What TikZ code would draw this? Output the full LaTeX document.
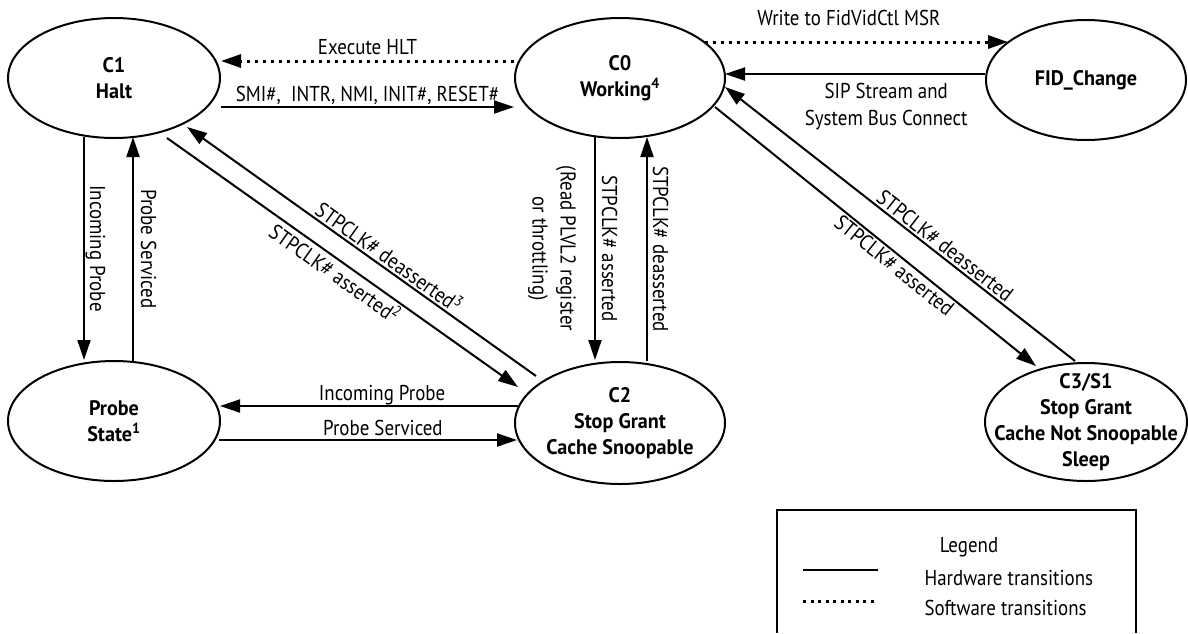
\documentclass[tikz,border=0pt]{standalone}
\usepackage{fontspec}
\setmainfont{PT Sans}[FakeStretch=0.88]
\newfontfamily\statefont{PT Sans}[FakeStretch=0.96]
\usetikzlibrary{arrows.meta,shapes.geometric}
\begin{document}
\begin{tikzpicture}[x=1pt,y=-1pt,
  txt/.style={font=\fontsize{21.5}{27}\selectfont},
  statetext/.style={align=center, inner sep=0pt, font=\statefont\fontsize{21}{26}\selectfont\bfseries},
  state/.style={ellipse, draw, line width=2pt, inner sep=0pt},
  hw/.style={line width=2pt, -{Triangle[length=20pt,width=13pt]}},
  sw/.style={hw, line width=3pt, dash pattern=on 3pt off 5pt},
  hlab/.style={txt, anchor=base, inner sep=0pt},
  vlab/.style={txt, rotate=-90, inner sep=0pt, text depth=0pt},
  vlabtwo/.style={rotate=-90, inner sep=0pt, align=center, font=\fontsize{21.5}{28}\selectfont},
  dlab/.style={txt, sloped, inner sep=2pt},
]
\useasboundingbox (0,0) rectangle (1188,633);

% states
\node[state, minimum width=212pt, minimum height=120pt,
      label={[statetext, name=C1t]center:{C1\\Halt}}] (C1) at (114,78) {};
\node[state, minimum width=210pt, minimum height=120pt,
      label={[statetext, name=C0t]center:{C0\\Working\textsuperscript{4}}}] (C0) at (620,78) {};
\node[state, minimum width=200pt, minimum height=120pt,
      label={[statetext, name=FIDt]center:{FID\_Change}}] (FID) at (1086,80) {};
\node[state, minimum width=212pt, minimum height=120pt,
      label={[statetext, name=PSt]center:{Probe\\State\textsuperscript{1}}}] (PS) at (114,421) {};
\node[state, minimum width=210pt, minimum height=122pt,
      label={[statetext, name=C2t]center:{C2\\Stop Grant\\Cache Snoopable}}] (C2) at (620,423) {};
\node[state, minimum width=202pt, minimum height=118pt,
      label={[statetext, name=C3t]center:{C3/S1\\Stop Grant\\Cache Not Snoopable\\Sleep}}] (C3) at (1086,422) {};

% top row
\draw[sw] ([yshift=17pt]C0.west) -- node[hlab, yshift=7pt] (l1) {Execute HLT} ([yshift=17pt]C1.east);
\draw[hw] ([yshift=-29pt]C1.east) -- node[hlab, yshift=6pt] (l2) {SMI\#,\ \ INTR, NMI, INIT\#, RESET\#} ([yshift=-29pt]C0.west);
\draw[sw] ([shift={(85,-36)}]C0.center) -- node[hlab, pos=0.475, yshift=17pt] (l3) {Write to FidVidCtl MSR} ([shift={(-78,-38)}]FID.center);
\draw[hw] ([shift={(-101,-6)}]FID.center) -- node[txt, align=center, anchor=north, pos=0.38, yshift=-8pt, inner sep=0pt] (l4) {SIP Stream and\\System Bus Connect} ([shift={(105,-4)}]C0.center);

% verticals
\draw[hw] ([shift={(-30,59)}]C1.center) -- node[vlab, anchor=south, outer sep=6pt] (l5) {Incoming Probe} ([shift={(-30,-61)}]PS.center);
\draw[hw] ([shift={(19,-60)}]PS.center) -- node[vlab, anchor=south, outer sep=8pt] (l6) {Probe Serviced} ([shift={(19,59)}]C1.center);
\draw[hw] ([shift={(-25,59)}]C0.center) -- node[vlab, anchor=south, outer sep=7pt] (l7) {STPCLK\# asserted}
      node[vlabtwo, anchor=north, outer sep=19pt] (l8) {(Read PLVL2 register\\or throttling)} ([shift={(-25,-63)}]C2.center);
\draw[hw] ([shift={(27,-62)}]C2.center) -- node[vlab, anchor=south, outer sep=6pt] (l9) {STPCLK\# deasserted} ([shift={(27,59)}]C0.center);

% bottom horizontals
\draw[hw] ([shift={(-102,-17)}]C2.center) -- node[hlab, pos=0.456, yshift=6pt] (l10) {Incoming Probe} ([shift={(106,-15)}]PS.center);
\draw[hw] ([shift={(105,19)}]PS.center) -- node[hlab, pos=0.55, yshift=5pt] (l11) {Probe Serviced} ([shift={(-103,17)}]C2.center);

% diagonals
\draw[hw] ([shift={(53,60)}]C1.center) -- node[dlab, below, pos=0.5] (l12) {STPCLK\# asserted\textsuperscript{2}} ([shift={(-102,-36)}]C2.center);
\draw[hw] ([shift={(-84,-47)}]C2.center) -- node[dlab, above, pos=0.44] (l13) {STPCLK\# deasserted\textsuperscript{3}} ([shift={(73,49)}]C1.center);
\draw[hw] ([shift={(95,29)}]C0.center) -- node[dlab, below, pos=0.58] (l14) {STPCLK\# asserted} ([shift={(-50,-56)}]C3.center);
\draw[hw] ([shift={(-11,-61)}]C3.center) -- node[dlab, above, pos=0.39] (l15) {STPCLK\# deasserted} ([shift={(105,9)}]C0.center);

% legend
\draw[line width=2pt] (777,633) -- (777,510) -- (1136,510) -- (1136,633);
\node[txt, anchor=base] (lg) at (969,552) {Legend};
\draw[line width=2pt] (803,570) -- (878,570);
\node[txt, anchor=west] (hwt) at (921,578) {Hardware transitions};
\draw[line width=3pt, dash pattern=on 3pt off 4.5pt] (803,601) -- (878,601);
\node[txt, anchor=west] (swt) at (921,608) {Software transitions};
\end{tikzpicture}
\end{document}
